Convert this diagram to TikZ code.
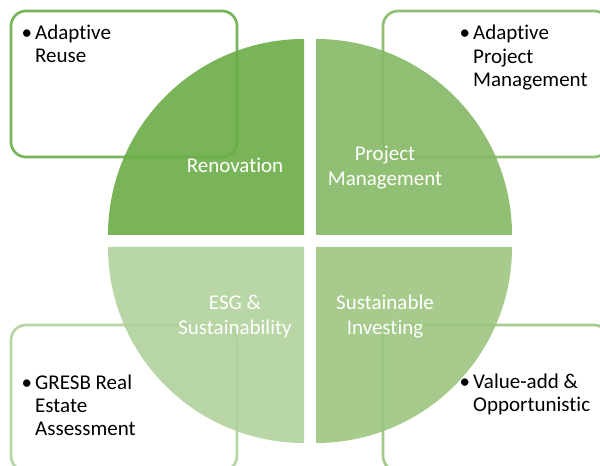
\documentclass[tikz,border=0pt]{standalone}
\usepackage{fontspec}
\setmainfont{Carlito}[Ligatures=CommonOff]
\usepackage{xcolor}
\usepackage{tikz}

\definecolor{renoGreen}{RGB}{107,172,71}
\definecolor{projGreen}{RGB}{133,184,100}
\definecolor{investGreen}{RGB}{156,197,127}
\definecolor{esgGreen}{RGB}{176,209,156}

\newcommand{\itembullet}{\llap{•\hspace{3pt}}}

\begin{document}
\begin{tikzpicture}[
  x=1pt, y=1pt,
  box/.style={draw, line width=2.7pt, draw opacity=0.9, fill=white,
              rounded corners=15pt, minimum width=226pt, minimum height=146pt},
  quarter/.style={fill opacity=0.9},
  item/.style={inner sep=0pt, align=left, anchor=base west,
               font=\fontsize{21}{23.5}\selectfont},
  lbl/.style={inner sep=0pt, align=center, text=white,
              font=\fontsize{21}{25}\selectfont}
]
\useasboundingbox (0,0) rectangle (600,466);

% boxes behind the circle
\foreach \name/\x/\y/\col in {boxReno/124/382/renoGreen, boxProj/496/382/projGreen,
                             boxEsg/124/68/esgGreen, boxInvest/496/68/investGreen}{
  \node[box, draw=\col] (\name) at (\x,\y) {};
}

% four quarters of the circle
\foreach \cx/\cy/\a/\col in {304/231/90/renoGreen, 316/231/0/projGreen,
                            304/219/180/esgGreen, 316/219/270/investGreen}{
  \fill[quarter, fill=\col] (\cx,\cy) -- ++(\a:196) arc (\a:\a+90:196) -- cycle;
}

\node[lbl] (reno)   at (235,301) {Renovation};
\node[lbl] (proj)   at (385,298) {Project\\Management};
\node[lbl] (esg)    at (235,149) {ESG \&\\Sustainability};
\node[lbl] (invest) at (385,149) {Sustainable\\Investing};

% bullet text in the boxes (base = last line)
\node[item] (reuse)   at (35,403)  {\itembullet Adaptive\\Reuse};
\node[item] (adaptpm) at (473,379) {\itembullet Adaptive\\Project\\Management};
\node[item] (gresb)   at (35,30)   {\itembullet GRESB Real\\Estate\\Assessment};
\node[item] (valadd)  at (473,54)  {\itembullet Value-add \&\\Opportunistic};

\end{tikzpicture}
\end{document}
